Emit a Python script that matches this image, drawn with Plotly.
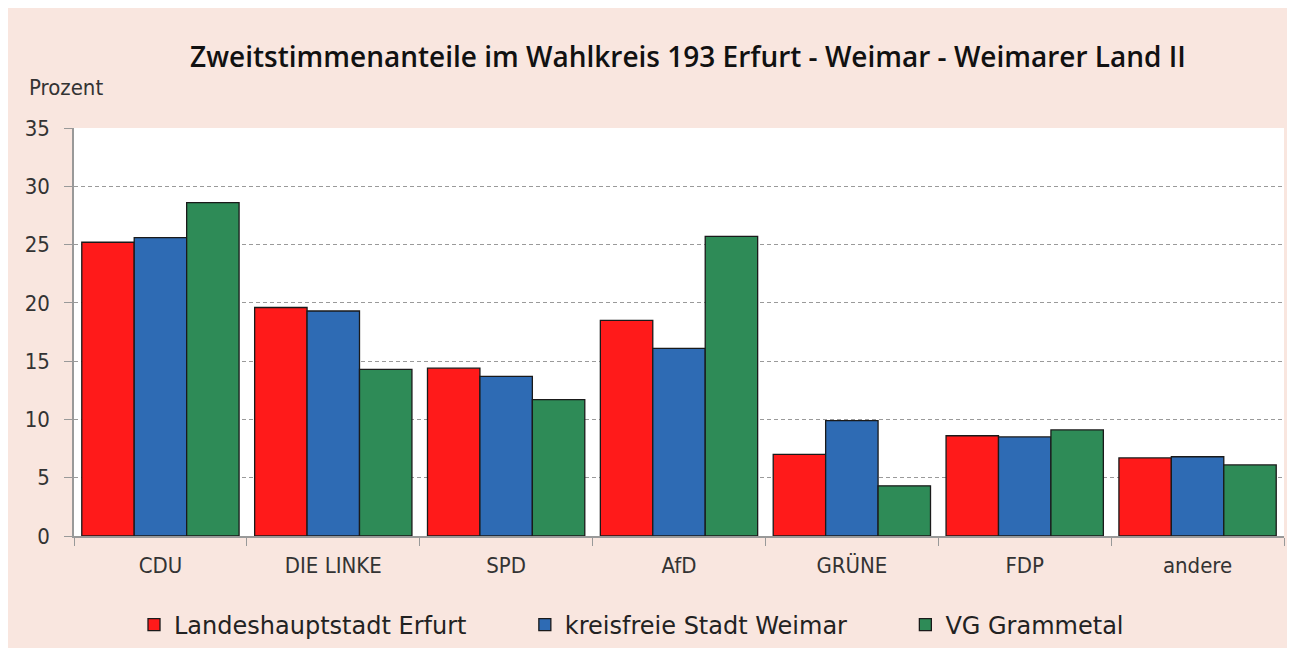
import plotly.graph_objects as go

categories = ["CDU", "DIE LINKE", "SPD", "AfD", "GRÜNE", "FDP", "andere"]
erfurt = [25.2, 19.6, 14.4, 18.5, 7.0, 8.6, 6.7]
weimar = [25.6, 19.3, 13.7, 16.1, 9.9, 8.5, 6.8]
grammetal = [28.6, 14.3, 11.7, 25.7, 4.3, 9.1, 6.1]
series_names = ["Landeshauptstadt Erfurt", "kreisfreie Stadt Weimar", "VG Grammetal"]
series_colors = ["#FF1A1A", "#2E6BB4", "#2E8B57"]
y_ticks = [0, 5, 10, 15, 20, 25, 30, 35]

PINK = "#F9E6DF"
TICKFONT = dict(family="DejaVu Sans Condensed, Liberation Sans, sans-serif", size=22, color="#333333")

# legend names padded with non-breaking spaces to widen spacing between entries
pad = "\u00a0" * 7
legend_names = [series_names[0] + pad, series_names[1] + pad, series_names[2]]

fig = go.Figure()
for name, vals, col in zip(legend_names, [erfurt, weimar, grammetal], series_colors):
    fig.add_trace(go.Bar(
        x=categories, y=vals, name=name,
        marker=dict(color=col, line=dict(color="#1a1a1a", width=1.3)),
    ))

W, H = 1295, 648
L, R, T, B = 66, 19, 120, 120
pw, ph = W - L - R, H - T - B

def px_x(p):
    return (p - L) / pw

def px_y(p):
    return (H - B - p) / ph

fig.update_layout(
    width=W, height=H,
    margin=dict(l=L, r=R, t=T, b=B, autoexpand=False),
    paper_bgcolor=PINK,
    plot_bgcolor="white",
    barmode="group",
    bargap=0.09,
    bargroupgap=0,
    title=dict(
        text="Zweitstimmenanteile im Wahlkreis 193 Erfurt - Weimar - Weimarer Land II",
        x=680 / W, xref="container", xanchor="center",
        y=1 - 49 / H, yref="container", yanchor="middle",
        font=dict(family="Open Sans, sans-serif", size=28, color="#111111", weight=600),
    ),
    showlegend=True,
    legend=dict(
        orientation="h", x=px_x(623.5), xanchor="center",
        yref="container", y=1 - 617 / H, yanchor="middle",
        font=dict(family="DejaVu Sans, sans-serif", size=24, color="#222222"),
        bgcolor="rgba(0,0,0,0)",
    ),
    xaxis=dict(
        showline=True, linecolor="#999999", linewidth=1.5,
        ticks="outside", tickson="boundaries", ticklen=8, tickcolor="#999999",
        tickfont=TICKFONT, showgrid=False, ticklabelstandoff=9,
    ),
    yaxis=dict(
        range=[0, 35], tickvals=y_ticks,
        showline=True, linecolor="#999999", linewidth=1.5,
        ticks="outside", ticklen=8, tickcolor="#999999",
        tickfont=TICKFONT, ticklabelstandoff=10,
        showgrid=True, gridcolor="#9a9a9a", griddash="4px,3px", gridwidth=1.2,
        zeroline=False,
    ),
    annotations=[
        dict(text="Prozent", xref="paper", yref="paper", x=px_x(19), y=px_y(80),
             xanchor="left", yanchor="middle", showarrow=False, font=TICKFONT),
    ],
)

fig.write_html("out.html")
